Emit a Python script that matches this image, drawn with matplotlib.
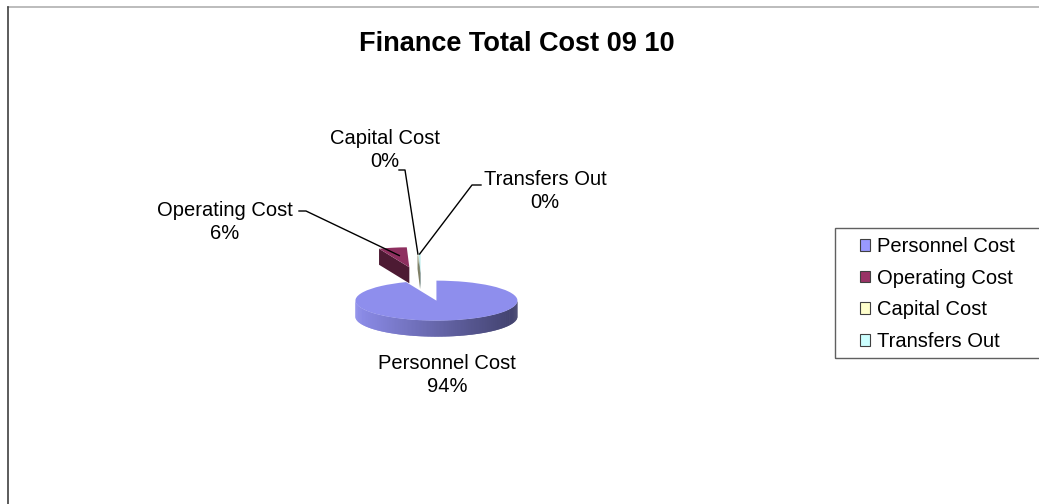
import numpy as np
import matplotlib.pyplot as plt
from matplotlib.patches import Polygon, Patch, Rectangle
from matplotlib.lines import Line2D
from matplotlib.colors import to_rgb

plt.rcParams['font.family'] = ['Liberation Sans', 'DejaVu Sans']

categories = ["Personnel Cost", "Operating Cost", "Capital Cost", "Transfers Out"]
shares = [93.9, 5.6, 0.1, 0.4]
explode = [1.0, 0.7, 0.4, 0.4]
colors = ["#9999FF", "#993366", "#FFFFCC", "#CCFFFF"]

W, H = 1039, 504
fig = plt.figure(figsize=(W / 100, H / 100), dpi=100)
fig.patch.set_facecolor("white")

# flattened pie: 1 x-unit = 81 px, 1 y-unit = 20 px
SX, SY = 81, 20
CX, CY = 421, 281          # pie centre in pixels from the top-left corner
DEPTH = 0.8                # thickness of the disc in y-units


def px(x, y):
    return ((x - CX) / SX, (CY - y) / SY)


def shade(c, f):
    return tuple(np.clip(np.array(to_rgb(c)) * f, 0, 1))


ax = fig.add_axes([(CX - 3 * SX) / W, (H - CY - 4 * SY) / H, 6 * SX / W, 8 * SY / H])
wedges, _ = ax.pie(shares, explode=explode, colors=colors, startangle=90,
                   counterclock=False, wedgeprops=dict(linewidth=0))
ax.set_aspect("auto")
ax.set_xlim(-3, 3)
ax.set_ylim(-4, 4)
ax.axis("off")

# sides of the disc, back slices first
order = np.argsort([-w.center[1] for w in wedges])
for k, i in enumerate(order):
    w = wedges[i]
    cx, cy = w.center
    t1, t2 = np.radians(w.theta1), np.radians(w.theta2)
    z = 2 * k + 1
    # flat cut faces that turn towards the viewer
    for t, n in ((t1, t1 - np.pi / 2), (t2, t2 + np.pi / 2)):
        if np.sin(n) < -1e-3:
            ex, ey = cx + np.cos(t), cy + np.sin(t)
            ax.add_patch(Polygon([(cx, cy), (ex, ey), (ex, ey - DEPTH), (cx, cy - DEPTH)],
                                 closed=True, facecolor=shade(colors[i], 0.5),
                                 lw=0, zorder=z))
    # rim, lit from the left; each strip overlaps the next to hide seams
    n_steps = max(int(np.degrees(t2 - t1)), 2)
    th = np.linspace(t1, t2, n_steps + 1)
    step = th[1] - th[0]
    for a in th[:-1]:
        b = min(a + 2 * step, t2)
        m = a + 0.5 * step
        if np.sin(m) >= 0:
            continue
        xa, ya = cx + np.cos(a), cy + np.sin(a)
        xb, yb = cx + np.cos(b), cy + np.sin(b)
        f = 0.92 - 0.5 * (np.cos(m) + 1) / 2
        ax.add_patch(Polygon([(xa, ya), (xb, yb), (xb, yb - DEPTH), (xa, ya - DEPTH)],
                             closed=True, facecolor=shade(colors[i], f), lw=0, zorder=z))
    w.set_zorder(z + 1)
    w.set_facecolor(shade(colors[i], 0.93))

# data labels with leader lines
total = sum(shares)
label_xy = [(447, 375), (225, 222), (385, 150), (545, 191)]
leaders = [None, [(299, 211), (306, 211)], [(399, 170), (405, 170)], [(481, 185), (472, 185)]]
anchor_r = [0, 0.6, 0.95, 0.95]
for i, w in enumerate(wedges):
    tx, ty = px(*label_xy[i])
    ax.text(tx, ty, f"{categories[i]}\n{round(shares[i] / total * 100):.0f}%",
            ha="center", va="center", multialignment="center", fontsize=14.5,
            linespacing=1.3, zorder=20)
    if leaders[i] is None:
        continue
    mid = np.radians(0.5 * (w.theta1 + w.theta2))
    ax_, ay_ = w.center[0] + anchor_r[i] * np.cos(mid), w.center[1] + anchor_r[i] * np.sin(mid)
    pts = [px(*p) for p in leaders[i]] + [(ax_, ay_)]
    ax.plot([p[0] for p in pts], [p[1] for p in pts], color="black", lw=1,
            clip_on=False, zorder=20)

fig.text(517 / W, 1 - 51 / H, "Finance Total Cost 09 10", ha="center", va="baseline",
         fontsize=19.5, fontweight="bold")

# legend
handles = [Patch(facecolor=c, edgecolor="#404040", linewidth=0.8) for c in colors]
fig.legend(handles, categories, loc="upper left", bbox_to_anchor=(860 / W, 1 - 237 / H),
           frameon=False, borderpad=0, borderaxespad=0, handlelength=0.5, handleheight=0.5,
           handletextpad=0.35, labelspacing=0.63, fontsize=14.5)
fig.add_artist(Rectangle((835 / W, 1 - 358 / H), 1, 130 / H, transform=fig.transFigure,
                         fill=False, edgecolor="#606060", lw=1))

# chart area border
fig.add_artist(Line2D([8 / W, 1], [1 - 7 / H, 1 - 7 / H], transform=fig.transFigure,
                      color="#b0b0b0", lw=1.2))
fig.add_artist(Line2D([8 / W, 8 / W], [0, 1 - 7 / H], transform=fig.transFigure,
                      color="#404040", lw=1.2))

fig.savefig("out.png", dpi=100, facecolor="white")
